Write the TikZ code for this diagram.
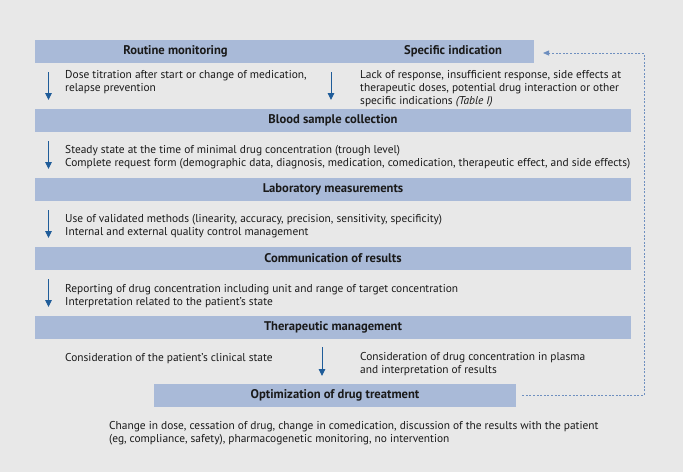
\documentclass[tikz,border=0pt]{standalone}
\usepackage{fontspec}
\setmainfont{PT Sans}
\usetikzlibrary{arrows.meta}
\definecolor{bg}{HTML}{E8E8E8}
\definecolor{barfill}{HTML}{A9BAD8}
\definecolor{arrowc}{HTML}{1F5C99}
\definecolor{dotc}{HTML}{6E8FBF}
\definecolor{txt}{HTML}{1A1A1A}
\begin{document}
\begin{tikzpicture}[x=1pt,y=-1pt,
  bar/.style={fill=barfill, draw=none, minimum height=23pt, inner sep=0pt, text=txt,
    font=\bfseries\fontsize{12.6}{14}\selectfont},
  head/.style={inner sep=0pt, text=txt, font=\bfseries\fontsize{12.6}{14}\selectfont},
  body/.style={inner sep=0pt, anchor=west, align=left, text=txt,
    font=\fontsize{11.4}{12.9}\selectfont},
  flow/.style={draw=arrowc, line width=0.9pt, -{Triangle[length=7pt,width=6.5pt]}},
  feedback/.style={draw=dotc, line width=0.8pt, dash pattern=on 2pt off 1.6pt,
    -{Triangle[length=6pt,width=5pt]}}]

\fill[bg] (0,0) rectangle (683,472);
\useasboundingbox (0,0) rectangle (683,472);

% bars
\node[bar, minimum width=499pt] (top) at (284.5,51.5) {};
\node[head] (routine) at (175.5,51.5) {Routine monitoring};
\node[head] (specific) at (453,51.5) {Specific indication};
\node[bar, minimum width=596pt] (blood) at (333,120.5) {Blood sample collection};
\node[bar, minimum width=596pt] (lab) at (333,189.5) {Laboratory measurements};
\node[bar, minimum width=596pt] (comm) at (333,258.5) {Communication of results};
\node[bar, minimum width=596pt] (ther) at (333,327.5) {Therapeutic management};
\node[bar, minimum width=362pt] (opt) at (335,395.5) {Optimization of drug treatment};

% texts
\node[body] (t1) at (65,82) {Dose titration after start or change of medication,\\relapse prevention};
\node[body] (t2) at (360,88.5) {Lack of response, insufficient response, side effects at\\therapeutic doses, potential drug interaction or other\\specific indications \textit{(Table I)}};
\node[body] (t3) at (65,157) {Steady state at the time of minimal drug concentration (trough level)\\Complete request form (demographic data, diagnosis, medication, comedication, therapeutic effect, and side effects)};
\node[body] (t4) at (65,226) {Use of validated methods (linearity, accuracy, precision, sensitivity, specificity)\\Internal and external quality control management};
\node[body] (t5) at (65,296) {Reporting of drug concentration including unit and range of target concentration\\Interpretation related to the patient's state};
\node[body] (t6) at (65,358.5) {Consideration of the patient's clinical state};
\node[body] (t7) at (360,364.5) {Consideration of drug concentration in plasma\\and interpretation of results};
\node[body] (t8) at (109,433) {Change in dose, cessation of drug, change in comedication, discussion of the results with the patient\\(eg, compliance, safety), pharmacogenetic monitoring, no intervention};

% arrows
\coordinate (a1s) at (48.5,72);  \coordinate (a1e) at (48.5,100);
\coordinate (a2s) at (331,72);   \coordinate (a2e) at (331,100);
\coordinate (a3s) at (48.5,141); \coordinate (a3e) at (48.5,169);
\coordinate (a4s) at (48.5,210); \coordinate (a4e) at (48.5,238);
\coordinate (a5s) at (48.5,279); \coordinate (a5e) at (48.5,307);
\coordinate (a6s) at (322,347);  \coordinate (a6e) at (322,376);
\draw[flow] (a1s) -- (a1e);
\draw[flow] (a2s) -- (a2e);
\draw[flow] (a3s) -- (a3e);
\draw[flow] (a4s) -- (a4e);
\draw[flow] (a5s) -- (a5e);
\draw[flow] (a6s) -- (a6e);

% feedback loop
\coordinate (fbstart) at ([xshift=6pt]opt.east);
\coordinate (fbcorner1) at (644,395.5);
\coordinate (fbcorner2) at (644,53);
\coordinate (fbend) at (543,53);
\draw[feedback] (fbstart) -- (fbcorner1) -- (fbcorner2) -- (fbend);
\end{tikzpicture}
\end{document}
